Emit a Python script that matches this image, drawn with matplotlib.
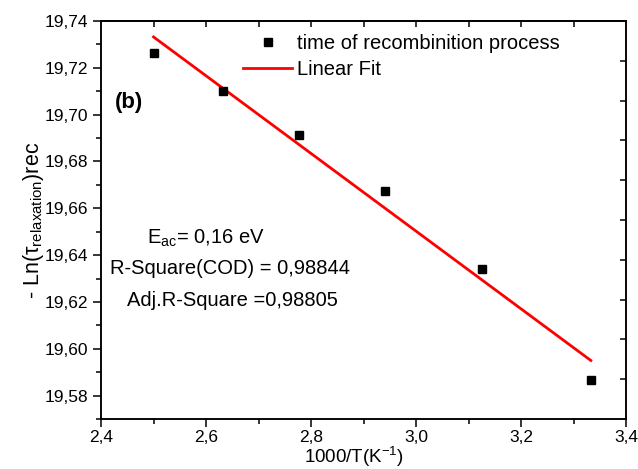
import matplotlib
matplotlib.use("Agg")
import matplotlib.pyplot as plt
from matplotlib.ticker import MultipleLocator, FuncFormatter, FixedLocator

plt.rcParams['font.family'] = ['Liberation Sans', 'DejaVu Sans']
plt.rcParams['mathtext.fontset'] = 'custom'
plt.rcParams['mathtext.rm'] = 'Liberation Sans'
plt.rcParams['mathtext.it'] = 'Liberation Sans:italic'
plt.rcParams['mathtext.default'] = 'regular'

# data
inv_T = [2.500, 2.632, 2.778, 2.941, 3.125, 3.333]
neg_ln_tau = [19.7265, 19.7103, 19.6913, 19.6673, 19.6342, 19.5866]
fit_x = [2.500, 3.333]
fit_y = [19.7332, 19.5950]

legend_labels = ["time of recombinition process", "Linear Fit"]
annotations = ["E$_{ac}$= 0,16 eV", "R-Square(COD) = 0,98844", "Adj.R-Square =0,98805"]

fig = plt.figure(figsize=(6.38, 4.69), dpi=100)
ax = fig.add_axes([101/638, 1-419/469, 525/638, 398/469])

ax.plot(inv_T, neg_ln_tau, linestyle='none', marker='s', color='black', ms=6,
        label=legend_labels[0], zorder=3)
ax.plot(fit_x, fit_y, color='red', lw=2.0, label=legend_labels[1], zorder=2)

ax.set_xlim(2.4, 3.4)
ax.set_ylim(19.57, 19.74)

comma = lambda fmt: FuncFormatter(lambda v, p: (fmt % v).replace('.', ','))
ax.xaxis.set_major_locator(MultipleLocator(0.2))
ax.xaxis.set_minor_locator(MultipleLocator(0.1))
ax.yaxis.set_major_locator(MultipleLocator(0.02))
ax.yaxis.set_minor_locator(MultipleLocator(0.01))
ax.xaxis.set_major_formatter(comma('%.1f'))
ax.yaxis.set_major_formatter(comma('%.2f'))

ax.tick_params(axis='both', which='major', direction='out', length=6, width=1.1,
               labelsize=12.5, pad=3)
ax.tick_params(axis='x', which='major', pad=2)
ax.tick_params(axis='both', which='minor', direction='out', length=3.5, width=1.1)
for s in ax.spines.values():
    s.set_linewidth(1.1)

# top axis ticks (inward, every 0.1)
axt = ax.secondary_xaxis('top')
axt.xaxis.set_major_locator(FixedLocator([2.5, 2.6, 2.7, 2.8, 2.9, 3.0, 3.1, 3.2, 3.3]))
axt.tick_params(direction='in', length=4, width=1.1, labelsize=0)
axt.set_xticklabels([])
axt.spines['top'].set_linewidth(1.1)

# right axis ticks (inward)
axr = ax.twinx()
axr.set_ylim(0, 1)
axr.yaxis.set_major_locator(FixedLocator([0.1, 0.2, 0.3, 0.4, 0.5, 0.6, 0.7, 0.8, 0.9]))
axr.tick_params(direction='in', length=4, width=1.1)
axr.set_yticklabels([])
for s in axr.spines.values():
    s.set_linewidth(1.1)

ax.set_xlabel("1000/T(K$^{-1}$)", fontsize=13.5, va='bottom')
ax.xaxis.set_label_coords(0.482, -0.125)
ax.set_ylabel("- Ln($\\tau_{relaxation}$)rec", fontsize=15.5, va='center')
ax.yaxis.set_label_coords(-0.128, 0.5)

h, l = ax.get_legend_handles_labels()
leg = ax.legend(h, l, loc='upper left', bbox_to_anchor=(0.2366, 1.014), frameon=False,
                fontsize=14.5, handlelength=2.4, handletextpad=0.25, labelspacing=0.38,
                borderpad=0.4)

ax.text(0.027, 0.795, "(b)", transform=ax.transAxes, fontsize=16, fontweight='bold',
        va='center', ha='left')
ax.text(0.087, 0.455, annotations[0], transform=ax.transAxes, fontsize=14.5, va='center')
ax.text(0.017, 0.378, annotations[1], transform=ax.transAxes, fontsize=14.5, va='center')
ax.text(0.050, 0.298, annotations[2], transform=ax.transAxes, fontsize=14.5, va='center')

fig.savefig("out.png", dpi=100)
